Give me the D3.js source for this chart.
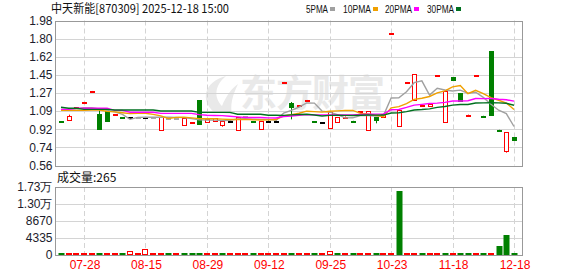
<!DOCTYPE html>
<html><head><meta charset="utf-8">
<script src="https://cdn.jsdelivr.net/npm/d3@7"></script>
<style>body{margin:0;background:#fff}svg{display:block}</style>
</head><body><svg id="c" width="578" height="276"></svg>
<script>
// ---------- data ----------
const title = "中天新能[870309] 2025-12-18 15:00";
const openP  = [0.995,1.003,1.128,1.18,1.288,1.064,1.094,1.062,1.034,1.032,1.032,1.032,1.032,0.901,1.03,1.03,0.954,0.982,1.201,0.993,0.993,0.962,0.998,0.903,1.04,0.995,0.92,0.996,0.996,1.376,1.172,1.148,1.20,0.991,0.989,0.922,0.983,1.033,0.998,1.089,0.905,1.032,1.035,1.853,0.954,1.376,1.199,1.151,1.14,1.441,0.983,1.427,1.27,1.045,1.441,1.047,1.681,0.91,0.705,0.839];
const highP  = [0.995,1.058,1.13,1.182,1.29,1.10,1.094,1.064,1.034,1.032,1.032,1.032,1.032,1.032,1.03,1.03,1.022,0.983,1.201,1.02,1.025,0.998,1.003,1.035,1.04,0.995,0.996,1.0,1.0,1.378,1.182,1.15,1.202,0.991,0.989,1.08,1.035,1.04,0.998,1.091,1.091,1.032,1.062,1.855,1.108,1.378,1.453,1.153,1.16,1.443,1.29,1.427,1.27,1.058,1.443,1.047,1.681,0.91,0.888,0.839];
const lowP   = [0.99,1.003,1.128,1.18,1.288,0.92,0.996,1.062,1.032,1.032,1.032,1.032,1.032,0.901,1.03,1.03,0.954,0.982,0.969,0.993,0.993,0.94,0.993,0.903,1.04,0.993,0.92,0.992,0.992,1.376,1.012,1.148,1.20,0.989,0.989,0.922,0.983,1.033,0.996,1.089,0.905,0.973,1.035,1.853,0.954,1.376,1.199,1.151,1.14,1.441,0.983,1.40,1.195,1.045,1.441,1.045,1.058,0.908,0.686,0.813];
const closeP = [0.99,1.045,1.13,1.182,1.29,0.92,0.996,1.064,1.032,1.032,1.032,1.032,1.032,1.032,1.03,1.03,1.022,0.983,0.969,1.02,1.025,0.998,0.998,1.035,1.04,0.993,0.996,0.996,0.996,1.378,1.136,1.15,1.202,0.989,0.989,1.08,1.035,1.036,0.996,1.091,1.091,1.006,1.062,1.855,1.108,1.378,1.453,1.153,1.16,1.443,1.29,1.40,1.195,1.058,1.443,1.045,1.058,0.908,0.888,0.813];
const volume = [150,200,120,180,150,200,150,120,100,1000,0,1500,0,150,0,0,200,120,200,150,150,200,100,200,0,100,150,100,100,100,200,100,100,150,100,1000,200,150,100,100,200,150,150,100,16300,100,200,100,150,100,200,150,200,150,100,100,200,2370,5100,265];

const ma5  = [1.11,1.11,1.115,1.125,1.127,1.113,1.10,1.085,1.06,1.012,1.031,1.032,1.032,1.032,1.032,1.031,1.029,1.019,1.007,1.005,1.004,0.999,1.002,1.015,1.019,1.013,1.012,1.012,1.004,1.072,1.10,1.131,1.172,1.171,1.093,1.082,1.059,1.026,1.027,1.048,1.05,1.044,1.049,1.221,1.224,1.282,1.371,1.389,1.25,1.317,1.30,1.289,1.298,1.268,1.277,1.227,1.159,1.101,1.068,0.942];
const ma10 = [1.10,1.10,1.10,1.10,1.104,1.104,1.09,1.085,1.077,1.068,1.072,1.071,1.061,1.046,1.02,1.031,1.034,1.026,1.019,1.018,1.018,1.014,1.011,1.011,1.012,1.008,1.006,1.007,1.01,1.046,1.057,1.072,1.092,1.088,1.083,1.091,1.095,1.099,1.099,1.07,1.066,1.052,1.038,1.124,1.136,1.166,1.208,1.219,1.236,1.271,1.291,1.33,1.344,1.263,1.297,1.263,1.224,1.199,1.172,1.109];
const ma20 = [1.11,1.11,1.12,1.12,1.12,1.12,1.12,1.10,1.10,1.082,1.082,1.082,1.082,1.07,1.07,1.07,1.07,1.07,1.058,1.052,1.05,1.048,1.042,1.036,1.03,1.03,1.03,1.026,1.025,1.04,1.045,1.052,1.058,1.056,1.056,1.055,1.055,1.056,1.056,1.06,1.062,1.063,1.065,1.106,1.109,1.129,1.151,1.159,1.167,1.171,1.178,1.191,1.191,1.194,1.216,1.215,1.216,1.209,1.204,1.19];
const ma30 = [1.13,1.12,1.12,1.11,1.11,1.11,1.11,1.104,1.104,1.104,1.104,1.104,1.104,1.094,1.094,1.094,1.094,1.094,1.08,1.08,1.08,1.08,1.08,1.062,1.062,1.062,1.062,1.052,1.052,1.051,1.056,1.059,1.062,1.055,1.045,1.051,1.052,1.051,1.05,1.052,1.054,1.053,1.054,1.074,1.077,1.088,1.103,1.108,1.115,1.129,1.138,1.151,1.158,1.158,1.172,1.173,1.176,1.173,1.169,1.15];

const maNames  = ["5PMA","10PMA","20PMA","30PMA"];
const maColors = ["#a0a0a0","#f0a000","#ff00ff","#007020"];

const priceTicks  = [1.98,1.8025,1.625,1.4475,1.27,1.0925,0.915,0.7375,0.56];
const priceLabels = ["1.98","1.80","1.62","1.45","1.27","1.09","0.92","0.74","0.56"];
const volTicks  = [17340,13005,8670,4335,0];
const volLabels = ["1.73万","1.30万","8670","4335","0"];
const xTickIndex  = [3,11,19,27,35,43,51,59];
const xTickLabels = ["07-28","08-15","08-29","09-12","09-25","10-23","11-18","12-18"];
const volTitle = "成交量:" + volume[volume.length-1];

// ---------- layout ----------
const L = 56, R = 522, PT = 20.5, PB = 165.5, VT = 187, VB = 255;
const UP = "#ff0000", DOWN = "#008000", FLAT = "#000000", NOTRADE = "#a8a8a8";
const svg = d3.select("#c");
const font = "'Liberation Sans', Arial, sans-serif";

const x  = d3.scaleLinear().domain([0, 59]).range([61, 514]);
const y  = d3.scaleLinear().domain([0.56, 1.98]).range([PB, PT]);
const yv = d3.scaleLinear().domain([0, 17340]).range([VB, VT]);
const cx = i => Math.round(x(i)) + 0.5;

// watermark
const wm = svg.append("g").attr("fill", "#e9e9e9");
wm.append("path").attr("d", "M214,112 C200,100 204,82 226,76 C214,86 214,98 222,106 C226,96 232,88 238,84 C232,96 230,106 232,114 Z");
wm.append("text").attr("x", 240).attr("y", 107).attr("font-size", 37).attr("font-weight", "bold")
  .attr("font-family", "'Noto Sans CJK SC', sans-serif").attr("letter-spacing", -1).text("东方财富");

// grids
const grid = svg.append("g").attr("stroke", "#d4d4d4").attr("stroke-width", 1);
priceTicks.slice(1, -1).forEach(v => grid.append("line").attr("x1", L).attr("x2", R)
  .attr("y1", Math.round(y(v)) + 0.5).attr("y2", Math.round(y(v)) + 0.5));
volTicks.slice(1, -1).forEach(v => grid.append("line").attr("x1", L).attr("x2", R)
  .attr("y1", Math.round(yv(v)) + 0.5).attr("y2", Math.round(yv(v)) + 0.5));
xTickIndex.forEach(i => {
  [[PT, PB], [VT, VB]].forEach(([a, b]) => grid.append("line").attr("x1", cx(i)).attr("x2", cx(i))
    .attr("y1", a).attr("y2", b).attr("stroke-dasharray", "5,3"));
});

// candle color
function candleColor(i) {
  if (volume[i] === 0) return NOTRADE;
  if (closeP[i] > openP[i]) return UP;
  if (closeP[i] < openP[i]) return DOWN;
  const prev = i > 0 ? closeP[i - 1] : openP[i];
  return closeP[i] > prev ? UP : closeP[i] < prev ? DOWN : FLAT;
}
function volUp(i) {
  const prev = i > 0 ? closeP[i - 1] : openP[i];
  return closeP[i] >= prev;
}

// candles
const cg = svg.append("g");
d3.range(openP.length).forEach(i => {
  const col = candleColor(i);
  const xc = cx(i);
  const top = Math.min(y(openP[i]), y(closeP[i]));
  const bot = Math.max(y(openP[i]), y(closeP[i]));
  cg.append("line").attr("x1", xc).attr("x2", xc).attr("y1", y(highP[i])).attr("y2", y(lowP[i]))
    .attr("stroke", col).attr("stroke-width", 1);
  const h = Math.max(1, Math.round(bot - top));
  const hollow = closeP[i] > openP[i];
  cg.append("rect").attr("x", xc - 2).attr("width", 4)
    .attr("y", Math.round(top) + 0.5).attr("height", h)
    .attr("fill", hollow ? "#fff" : col).attr("stroke", col).attr("stroke-width", 1);
});

// MA lines
const line = d3.line().x((d, i) => x(i)).y(d => y(d));
[ma5, ma10, ma20, ma30].forEach((arr, k) => {
  svg.append("path").datum(arr).attr("d", line).attr("fill", "none")
    .attr("stroke", maColors[k]).attr("stroke-width", 1.4);
});

// volume bars
const vg = svg.append("g");
volume.forEach((v, i) => {
  const up = volUp(i);
  const col = up ? UP : DOWN;
  const h = Math.max(1, Math.round(VB - yv(v)) - 1);
  vg.append("rect").attr("x", cx(i) - 3).attr("width", up ? 5 : 6)
    .attr("y", up ? VB - h - 0.5 : VB - h - 1).attr("height", up ? h : h + 1)
    .attr("fill", up ? "#fff" : col).attr("stroke", up ? col : "none").attr("stroke-width", 1);
});

// borders
const bd = svg.append("g").attr("fill", "none").attr("stroke", "#999").attr("stroke-width", 1);
bd.append("rect").attr("x", L - 0.5).attr("y", Math.round(PT) + 0.5).attr("width", R - L + 1).attr("height", Math.round(PB) - Math.round(PT));
bd.append("rect").attr("x", L - 0.5).attr("y", VT + 0.5).attr("width", R - L + 1).attr("height", VB - VT);

// axes
const yAxis = d3.axisLeft(y).tickValues(priceTicks).tickFormat((d, i) => priceLabels[i]).tickSize(0).tickPadding(3);
const ga = svg.append("g").attr("transform", `translate(${L - 0.5},0)`).call(yAxis);
const vAxis = d3.axisLeft(yv).tickValues(volTicks).tickFormat((d, i) => volLabels[i]).tickSize(0).tickPadding(3);
const gv = svg.append("g").attr("transform", `translate(${L - 0.5},0)`).call(vAxis);
const xAxis = d3.axisBottom(x).tickValues(xTickIndex).tickFormat((d, i) => xTickLabels[i]).tickSize(0).tickPadding(5);
const gx = svg.append("g").attr("transform", `translate(0.5,${VB})`).call(xAxis);
[ga, gv, gx].forEach(g => {
  g.select(".domain").remove();
  g.selectAll("text").attr("font-family", font).attr("font-size", 12).attr("fill", "#1c1c2c");
});
gx.selectAll("text").attr("fill", "#ff0000");

// title & legend
svg.append("text").attr("x", 51).attr("y", 13).attr("font-size", 12)
  .attr("font-family", "'Noto Sans CJK SC', sans-serif").attr("fill", "#111")
  .attr("textLength", 178).attr("lengthAdjust", "spacingAndGlyphs").text(title);
const legX = [306, 343, 385, 427], legW = [22, 28, 27, 27];
maNames.forEach((n, k) => {
  svg.append("text").attr("x", legX[k]).attr("y", 13).attr("font-size", 11)
    .attr("font-family", font).attr("fill", "#111")
    .attr("textLength", legW[k]).attr("lengthAdjust", "spacingAndGlyphs").text(n);
  svg.append("rect").attr("x", legX[k] + legW[k] + 2).attr("y", 7).attr("width", 5).attr("height", 4).attr("fill", maColors[k]);
});
svg.append("text").attr("x", 57).attr("y", 182).attr("font-size", 12)
  .attr("font-family", "'Noto Sans CJK SC', sans-serif").attr("fill", "#111").text(volTitle);
</script></body></html>
